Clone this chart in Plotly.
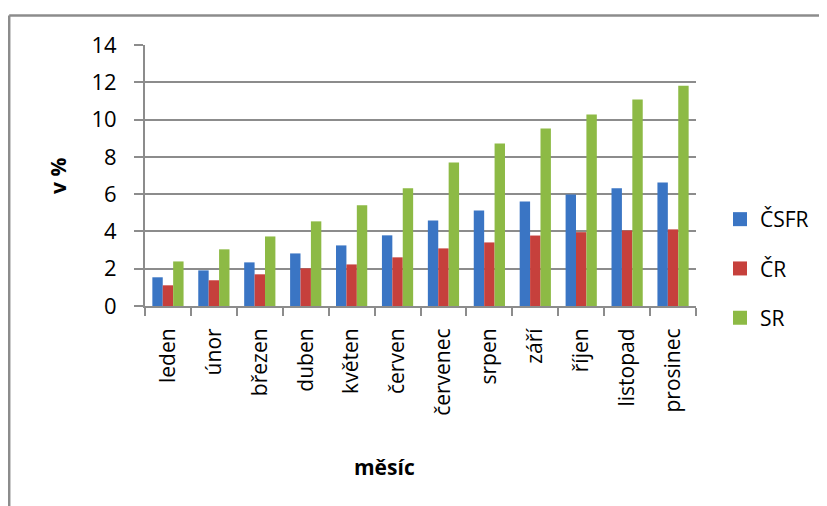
import plotly.graph_objects as go

months = ["leden", "únor", "březen", "duben", "květen", "červen",
          "červenec", "srpen", "září", "říjen", "listopad", "prosinec"]
csfr = [1.54, 1.91, 2.34, 2.82, 3.25, 3.79, 4.59, 5.12, 5.60, 5.98, 6.31, 6.63]
cr = [1.11, 1.38, 1.70, 2.02, 2.23, 2.61, 3.09, 3.41, 3.78, 3.96, 4.05, 4.11]
sr = [2.39, 3.04, 3.73, 4.54, 5.40, 6.31, 7.70, 8.72, 9.52, 10.27, 11.07, 11.82]
series_names = ["ČSFR", "ČR", "SR"]
y_ticks = [0, 2, 4, 6, 8, 10, 12, 14]

# page offset (browser body margin)
OFF = 8
W, H = 827, 506
# desired page pixel positions of plot area
P_L, P_R, P_T, P_B = 145, 696, 45, 306
ML = P_L - OFF
MT = P_T - OFF
MR = W - (P_R - OFF)
MB = H - (P_B - OFF)
PW, PH = W - ML - MR, H - MT - MB

def px(x):
    return (x - OFF - ML) / PW

def py(y):
    return (H - MB - (y - OFF)) / PH

FONT = "Open Sans"
colors = ["#3A75C4", "#C6403C", "#8DBA45"]

fig = go.Figure()
for name, vals, c in zip(series_names, [csfr, cr, sr], colors):
    fig.add_trace(go.Bar(
        x=months, y=vals, name=name, legendgroup=name, showlegend=False,
        marker=dict(color=c, line=dict(width=0)),
    ))
# legend entries with larger square swatches
for name, c in zip(series_names, colors):
    fig.add_trace(go.Scatter(
        x=[None], y=[None], mode="markers", name=name, legendgroup=name,
        marker=dict(symbol="square", size=14, color=c, line=dict(width=0)),
        showlegend=True,
    ))

grid = "#8C8C8C"
fig.update_layout(
    width=W, height=H,
    margin=dict(l=ML, r=MR, t=MT, b=MB),
    paper_bgcolor="white", plot_bgcolor="white",
    barmode="group", bargap=0.32, bargroupgap=0,
    font=dict(family=FONT, size=21, color="black"),
    showlegend=True,
    legend=dict(x=px(720), y=py(199), xanchor="left", yanchor="top",
                font=dict(size=21), tracegroupgap=19,
                itemwidth=30, bgcolor="rgba(0,0,0,0)"),
    xaxis=dict(
        type="category", showgrid=False, showline=True, linecolor=grid, linewidth=2,
        ticks="outside", tickson="boundaries", ticklen=8, tickcolor=grid, tickwidth=2,
        tickangle=-90, tickfont=dict(size=21), ticklabelstandoff=12,
    ),
    yaxis=dict(
        range=[0, 14], tickvals=y_ticks, showgrid=True, gridcolor=grid, gridwidth=2,
        showline=True, linecolor=grid, linewidth=2, zeroline=False,
        ticks="outside", ticklen=9, tickcolor=grid, tickwidth=2,
        tickfont=dict(size=22), ticklabelstandoff=13,
    ),
    shapes=[
        dict(type="line", xref="paper", yref="paper", x0=px(9.2), x1=px(840),
             y0=py(15.5), y1=py(15.5), line=dict(color=grid, width=2.5)),
        dict(type="line", xref="paper", yref="paper", x0=px(9.2), x1=px(9.2),
             y0=py(15.5), y1=py(520), line=dict(color=grid, width=2.5)),
    ],
    annotations=[
        dict(text="<b>v %</b>", xref="paper", yref="paper", x=px(58), y=py(176),
             showarrow=False, textangle=-90, font=dict(size=21),
             xanchor="center", yanchor="middle"),
        dict(text="<b>měsíc</b>", xref="paper", yref="paper", x=px(384), y=py(467),
             showarrow=False, font=dict(size=21),
             xanchor="center", yanchor="middle"),
    ],
)

fig.write_html("out.html")
